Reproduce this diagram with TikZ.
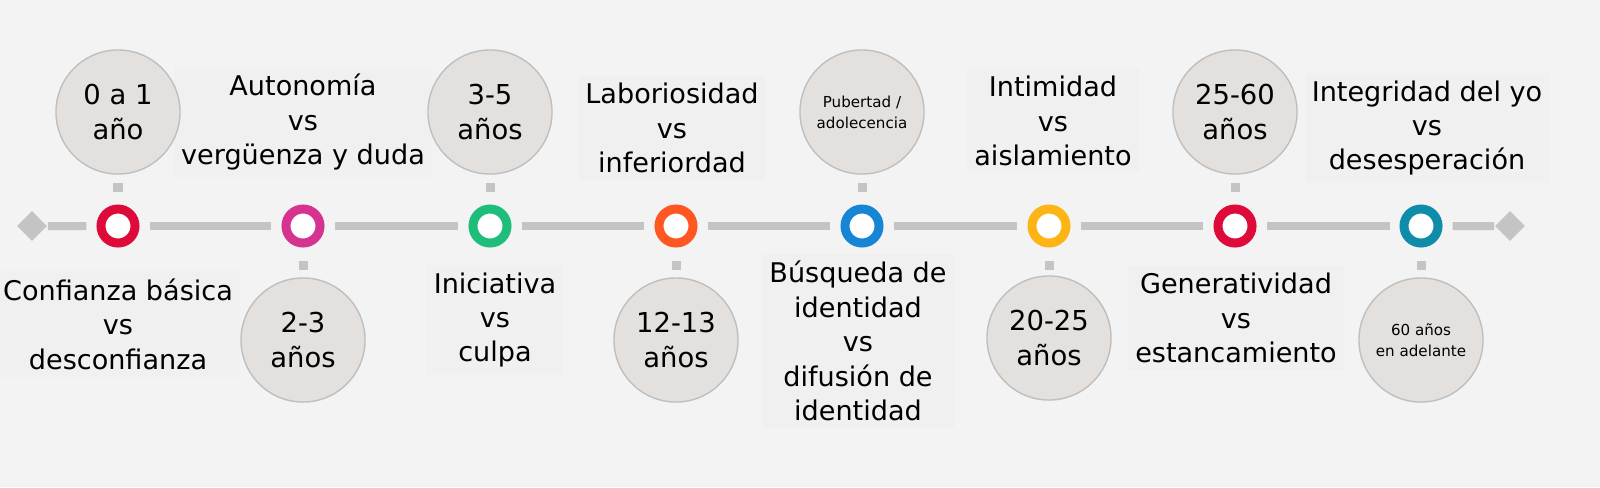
\documentclass[tikz,border=0pt]{standalone}
\usepackage{fontspec}
\setmainfont{DejaVu Sans}
\begin{document}
\begin{tikzpicture}[x=0.01cm,y=-0.01cm,
  ring/.style={circle,draw=#1,line width=0.09cm,fill=white,minimum size=0.34cm,inner sep=0},
  age/.style={circle,fill=ageF,draw=gray!50,line width=0.4pt,minimum size=1.24cm,inner sep=0,align=center,font=\fontsize{7.2}{8.6}\selectfont},
  lbl/.style={align=center,font=\fontsize{7.7}{9.8}\selectfont,fill=lblF,inner sep=2pt},
  tick/.style={fill=lineC,minimum size=0.09cm,inner sep=0},
  seg/.style={line width=0.08cm,draw=lineC}]
\definecolor{bg}{HTML}{F3F3F3}\definecolor{lineC}{HTML}{C4C4C4}
\definecolor{ageF}{HTML}{E4E0DE}\definecolor{lblF}{HTML}{F0F0F0}
\definecolor{c1}{HTML}{DD0A3A}\definecolor{c2}{HTML}{D63391}
\definecolor{c3}{HTML}{1EBE7A}\definecolor{c4}{HTML}{FF5722}
\definecolor{c5}{HTML}{1685D4}\definecolor{c6}{HTML}{FDB515}
\definecolor{c7}{HTML}{DD0A3A}\definecolor{c8}{HTML}{0E8CAA}
\fill[bg] (0,0) rectangle (1600,487);
\useasboundingbox (0,0) rectangle (1600,487);
\node[lbl] (l2) at (303,122) {Autonomía\\vs\\vergüenza y duda};
\node[lbl] (l4) at (672,128) {Laboriosidad\\vs\\inferiordad};
\node[lbl] (l6) at (1053,121) {Intimidad\\vs\\aislamiento};
\node[lbl] (l8) at (1427,128) {Integridad del yo\\vs\\desesperación};
\node[lbl] (l1) at (118,324) {Confianza básica\\vs\\desconfianza};
\node[lbl] (l3) at (495,320) {Iniciativa\\vs\\culpa};
\node[lbl] (l5) at (858,341) {Búsqueda de\\identidad\\vs\\difusión de\\identidad};
\node[lbl] (l7) at (1236,318) {Generatividad\\vs\\estancamiento};
\node[fill=lineC,rotate=45,minimum size=0.21cm,inner sep=0] (dL) at (32,226) {};
\node[fill=lineC,rotate=45,minimum size=0.21cm,inner sep=0] (dR) at (1510,226) {};
\foreach \i/\x/\c in {1/118/c1,2/303/c2,3/490/c3,4/676/c4,5/862/c5,6/1049/c6,7/1235/c7,8/1421/c8}
  \node[ring=\c] (r\i) at (\x,226) {};
\draw[seg] (dL) -- ([xshift=-0.1cm]r1.west);
\foreach \a/\b in {1/2,2/3,3/4,4/5,5/6,6/7,7/8}
  \draw[seg] ([xshift=0.1cm]r\a.east) -- ([xshift=-0.1cm]r\b.west);
\draw[seg] ([xshift=0.1cm]r8.east) -- (dR);
\foreach \i/\x in {1/118,3/490,5/862,7/1235} \node[tick] (t\i) at (\x,187) {};
\foreach \i/\x in {2/303,4/676,6/1049,8/1421} \node[tick] (t\i) at (\x,265) {};
\node[age,font=\fontsize{7.8}{9.8}\selectfont] (a1) at (118,112) {0 a 1\\año};
\node[age,font=\fontsize{7.8}{9.8}\selectfont] (a3) at (490,112) {3-5\\años};
\node[age,font=\fontsize{4.3}{6}\selectfont] (a5) at (862,112) {Pubertad /\\adolecencia};
\node[age,font=\fontsize{7.8}{9.8}\selectfont] (a7) at (1235,112) {25-60\\años};
\node[age,font=\fontsize{7.8}{9.8}\selectfont] (a2) at (303,340) {2-3\\años};
\node[age,font=\fontsize{7.8}{9.8}\selectfont] (a4) at (676,340) {12-13\\años};
\node[age,font=\fontsize{7.8}{9.8}\selectfont] (a6) at (1049,338) {20-25\\años};
\node[age,font=\fontsize{4.3}{6}\selectfont] (a8) at (1421,340) {60 años\\en adelante};
\end{tikzpicture}
\end{document}
